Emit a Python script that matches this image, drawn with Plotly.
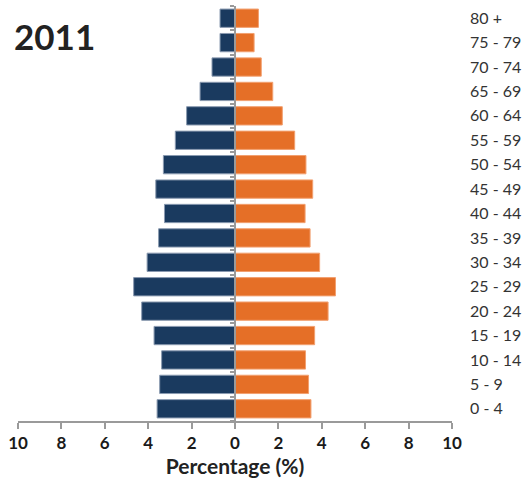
import plotly.graph_objects as go

age_groups = ["0 - 4", "5 - 9", "10 - 14", "15 - 19", "20 - 24", "25 - 29", "30 - 34",
              "35 - 39", "40 - 44", "45 - 49", "50 - 54", "55 - 59", "60 - 64",
              "65 - 69", "70 - 74", "75 - 79", "80 +"]
male_pct = [3.59, 3.47, 3.38, 3.73, 4.30, 4.67, 4.05, 3.52, 3.25, 3.65, 3.30, 2.75, 2.23,
            1.61, 1.06, 0.69, 0.69]
female_pct = [3.50, 3.39, 3.25, 3.67, 4.29, 4.63, 3.90, 3.46, 3.23, 3.58, 3.27, 2.75, 2.18,
              1.74, 1.21, 0.88, 1.08]
tick_vals = [-10, -8, -6, -4, -2, 0, 2, 4, 6, 8, 10]
tick_text = ["10", "8", "6", "4", "2", "0", "2", "4", "6", "8", "10"]
title_text = "2011"
x_title = "Percentage (%)"

BLUE = "#1a3a5f"
ORANGE = "#e56f27"
FONT = "Lato, 'Open Sans', sans-serif"

fig = go.Figure()
fig.add_trace(go.Bar(
    y=age_groups, x=[-v for v in male_pct], orientation="h",
    marker=dict(color=BLUE, line=dict(color="#8a9ab0", width=1)),
    showlegend=False, hoverinfo="skip"))
fig.add_trace(go.Bar(
    y=age_groups, x=female_pct, orientation="h",
    marker=dict(color=ORANGE, line=dict(color="#f2a070", width=1)),
    showlegend=False, hoverinfo="skip"))
# invisible trace to draw the central category axis with boundary ticks
fig.add_trace(go.Scatter(y=age_groups, x=[0] * len(age_groups), yaxis="y2",
                         mode="markers", marker=dict(opacity=0), showlegend=False,
                         hoverinfo="skip"))

fig.update_layout(
    width=523, height=483,
    margin=dict(l=17.5, r=71, t=6, b=62),
    paper_bgcolor="white", plot_bgcolor="white",
    barmode="relative", bargap=0.25,
    font=dict(family=FONT, color="#222"),
    xaxis=dict(range=[-10, 10], tickvals=tick_vals, ticktext=tick_text, automargin=False,
               showgrid=False, zeroline=False, showline=True, linecolor="#9a9a9a",
               linewidth=1.5, ticks="outside", ticklen=6, tickcolor="#9a9a9a",
               tickwidth=1.5,
               tickfont=dict(family=FONT, size=17, color="#1a1a1a", weight="bold"),
               title=dict(text=x_title, standoff=3,
                          font=dict(family=FONT, size=21, color="#222", weight="bold"))),
    yaxis=dict(type="category", categoryorder="array", categoryarray=age_groups,
               range=[-0.5, 16.5], side="right", showgrid=False, showline=False,
               ticks="", ticklabelstandoff=17, automargin=False,
               tickfont=dict(family=FONT, size=16, color="#333")),
    yaxis2=dict(type="category", categoryorder="array", categoryarray=age_groups,
                range=[-0.5, 16.5], overlaying="y", anchor="free", position=0.5,
                side="left", showgrid=False, showline=True, linecolor="#9a9a9a",
                linewidth=1.5, ticks="outside", tickson="boundaries", ticklen=4,
                tickcolor="#9a9a9a", tickwidth=1.5, showticklabels=False,
                automargin=False),
    annotations=[dict(text=title_text, xref="paper", yref="paper",
                      x=-0.014, y=0.982, xanchor="left", yanchor="top", showarrow=False,
                      font=dict(family=FONT, size=35, color="#222", weight="bold"))],
)

fig.write_html("out.html", config={"displayModeBar": False},
               post_script="document.body.style.margin='0';"
                           "document.body.style.overflow='hidden';")
